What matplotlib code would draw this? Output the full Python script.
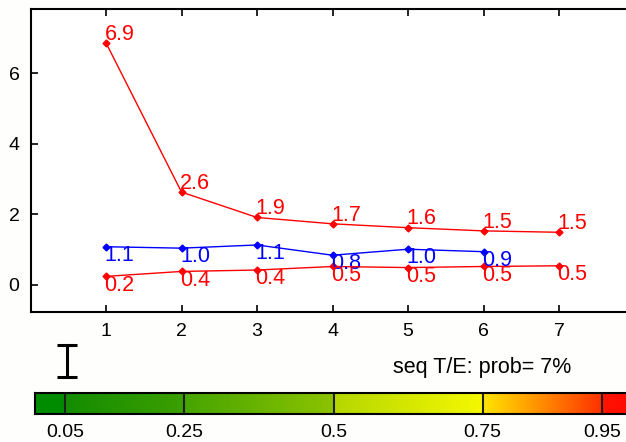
import numpy as np
import matplotlib
matplotlib.use('Agg')
import matplotlib.pyplot as plt
from matplotlib.colors import LinearSegmentedColormap
from matplotlib.lines import Line2D

plt.rcParams['font.family'] = ['Liberation Sans', 'DejaVu Sans']

# data
x = [1, 2, 3, 4, 5, 6, 7]
red_top = [6.86, 2.63, 1.91, 1.73, 1.62, 1.53, 1.49]
blue_mid = [1.08, 1.04, 1.13, 0.84, 1.01, 0.94]
red_low = [0.24, 0.38, 0.42, 0.52, 0.49, 0.52, 0.54]
xticks = [1, 2, 3, 4, 5, 6, 7]
yticks = [0, 2, 4, 6]
cb_ticks = [0.05, 0.25, 0.5, 0.75, 0.95]
cb_ticklabels = ['0.05', '0.25', '0.5', '0.75', '0.95']
caption = 'seq T/E: prob= 7%'

W, H = 626, 442
fig = plt.figure(figsize=(W / 100, H / 100), dpi=100)
fig.patch.set_facecolor('#fefefc')


def px(l, t, r, b):
    # pixel box -> figure fraction
    return [l / W, 1 - b / H, (r - l) / W, (b - t) / H]


ax = fig.add_axes(px(30.5, 9, 634.5, 312))
ax.set_facecolor('white')

lbl_size = 15.5
ax.plot(x, red_top, color='red', lw=1.0, marker='D', ms=3.5)
ax.plot(x[:len(blue_mid)], blue_mid, color='blue', lw=1.0, marker='D', ms=3.5)
ax.plot(x, red_low, color='red', lw=1.0, marker='D', ms=3.5)

for xi, v in zip(x, red_top):
    ax.text(xi - 0.02, v - 0.05, f"{v:.1f}", color='red', fontsize=lbl_size,
            ha='left', va='bottom')
for xi, v in zip(x, blue_mid):
    ax.text(xi - 0.02, v + 0.05, f"{v:.1f}", color='blue', fontsize=lbl_size,
            ha='left', va='top')
for xi, v in zip(x, red_low):
    ax.text(xi - 0.02, v + 0.05, f"{v:.1f}", color='red', fontsize=lbl_size,
            ha='left', va='top')

ax.set_xlim(0, 8)
ax.set_ylim(-0.77, 7.82)
ax.set_xticks(xticks)
ax.set_yticks(yticks)
ax.tick_params(direction='in', length=5, width=1.2, labelsize=14, top=True,
               pad=8)
for s in ax.spines.values():
    s.set_linewidth(1.5)

# scale indicator
sx, st, sb, sw = 67, 345, 377, 10
for coords in [([sx, sx], [st, sb]), ([sx - sw, sx + sw], [st, st]), ([sx - sw, sx + sw], [sb, sb])]:
    fig.add_artist(Line2D([c / W for c in coords[0]], [1 - c / H for c in coords[1]],
                          color='black', lw=2.2, solid_capstyle='butt'))

fig.text(393 / W, 1 - 368 / H, caption, fontsize=15.5, ha='left', va='center')

# colour bar
cax = fig.add_axes(px(35, 393, 632, 414))
stops = [(0.0, (0, 140 / 255, 0)), (0.05, (0, 140 / 255, 0)),
         (0.0501, (20 / 255, 140 / 255, 0)), (0.25, (60 / 255, 160 / 255, 0)),
         (0.2501, (70 / 255, 165 / 255, 0)), (0.5, (140 / 255, 195 / 255, 0)),
         (0.5001, (180 / 255, 215 / 255, 0)), (0.75, (245 / 255, 248 / 255, 0)),
         (0.7501, (1, 230 / 255, 0)), (0.95, (1, 50 / 255, 0)),
         (0.9501, (1, 20 / 255, 0)), (1.0, (1, 10 / 255, 0))]
cmap = LinearSegmentedColormap.from_list('prob', stops, N=512)
grad = np.linspace(0, 1, 600).reshape(1, -1)
cax.imshow(grad, aspect='auto', cmap=cmap, extent=[0, 1, 0, 1])
for t in cb_ticks:
    cax.axvline(t, color='#202020', lw=1.5)
cax.set_xlim(0, 1)
cax.set_ylim(0, 1)
cax.set_yticks([])
cax.set_xticks(cb_ticks)
cax.set_xticklabels(cb_ticklabels)
cax.tick_params(length=0, labelsize=14, pad=7)
for s in cax.spines.values():
    s.set_linewidth(1.5)

fig.savefig('out.png', dpi=100, facecolor=fig.get_facecolor())
